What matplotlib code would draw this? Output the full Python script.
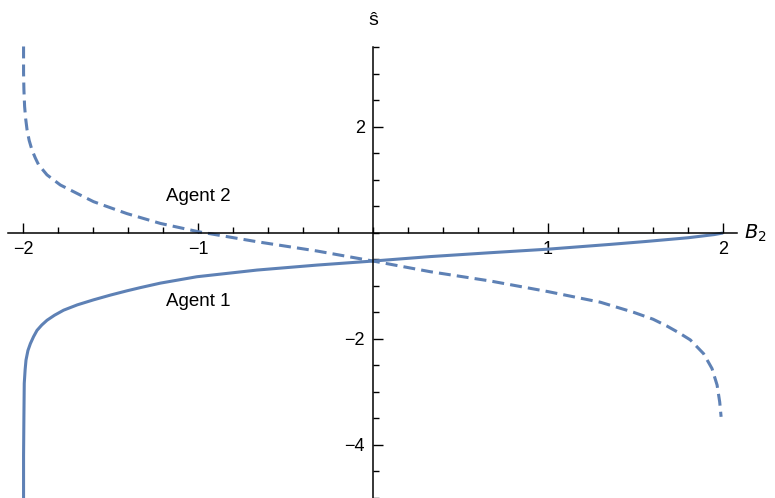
import numpy as np
import matplotlib
matplotlib.use("Agg")
import matplotlib.pyplot as plt

plt.rcParams["font.family"] = ["Liberation Sans", "DejaVu Sans"]

# values (B2, s-hat)
agent1_x = [-1.997, -1.997, -1.995, -1.993, -1.988, -1.983, -1.972, -1.958, -1.94,
            -1.92, -1.893, -1.863, -1.82, -1.768, -1.69, -1.597, -1.50, -1.406,
            -1.33, -1.215, -1.007, -0.663, -0.32, 0.0, 0.327, 0.67, 1.0,
            1.356, 1.56, 1.8, 1.95, 2.0]
agent1_y = [-5.0, -4.2, -3.47, -2.84, -2.58, -2.40, -2.22, -2.09, -1.96,
            -1.84, -1.74, -1.65, -1.555, -1.46, -1.36, -1.265, -1.175, -1.095,
            -1.035, -0.95, -0.83, -0.704, -0.61, -0.534, -0.45, -0.377, -0.31,
            -0.22, -0.165, -0.095, -0.035, -0.005]

agent2_x = [-1.997, -1.997, -1.995, -1.991, -1.985, -1.977, -1.965, -1.949, -1.93,
            -1.911, -1.863, -1.787, -1.691, -1.597, -1.50, -1.406, -1.215, -1.0,
            -0.663, -0.32, 0.0, 0.327, 0.67, 1.0, 1.299, 1.489, 1.60, 1.68,
            1.75, 1.813, 1.889, 1.937, 1.966, 1.981, 1.989]
agent2_y = [3.51, 3.01, 2.70, 2.38, 2.15, 1.94, 1.74, 1.56, 1.41,
            1.28, 1.09, 0.90, 0.74, 0.585, 0.47, 0.36, 0.175, 0.02,
            -0.17, -0.345, -0.534, -0.735, -0.91, -1.11, -1.31, -1.50, -1.63, -1.76,
            -1.89, -2.02, -2.28, -2.56, -2.87, -3.19, -3.47]

labels = ["Agent 1", "Agent 2"]
blue = "#5E81B5"

fig = plt.figure(figsize=(7.75, 4.98), dpi=100)
ax = fig.add_axes([0.0103, 0.0, 0.9407, 0.9056])

ax.plot(agent1_x, agent1_y, color=blue, lw=2.2, solid_capstyle="butt",
        solid_joinstyle="round", clip_on=False)
ax.plot(agent2_x, agent2_y, color=blue, lw=2.2, dashes=(3.9, 2.0), clip_on=False)

ax.set_xlim(-2.086, 2.08)
ax.set_ylim(-5.0, 3.5)

for side in ("top", "right"):
    ax.spines[side].set_visible(False)
ax.spines["left"].set_position(("data", 0))
ax.spines["bottom"].set_position(("data", 0))
for side in ("left", "bottom"):
    ax.spines[side].set_linewidth(1.1)

ax.set_xticks([-2, -1, 1, 2])
ax.set_xticklabels(["\u22122", "\u22121", "1", "2"])
ax.set_xticks(np.arange(-2.0, 2.01, 0.2), minor=True)
ax.set_yticks([-4, -2, 2])
ax.set_yticklabels(["\u22124", "\u22122", "2"])
ax.set_yticks(np.arange(-5.0, 3.51, 0.5), minor=True)
ax.tick_params(which="both", direction="in", labelsize=13, width=1.0)
ax.tick_params(which="major", length=7, pad=6)
ax.tick_params(which="minor", length=4)

ax.text(-1.0, 0.68, labels[1], fontsize=13.5, ha="center", va="center")
ax.text(-1.0, -1.29, labels[0], fontsize=13.5, ha="center", va="center")

fig.text(373 / 775, 1 - 20 / 498, "\u015d", fontsize=14, ha="center", va="center")
fig.text(755 / 775, 1 - 233 / 498, "$B_2$", fontsize=14, ha="center", va="center")

fig.savefig("out.png", dpi=100)
